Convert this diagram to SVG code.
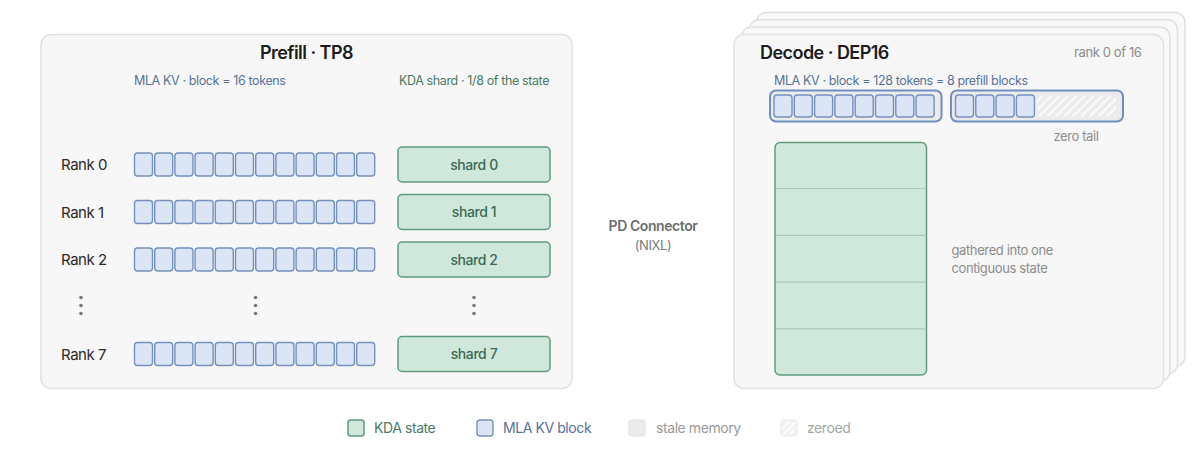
<svg xmlns="http://www.w3.org/2000/svg" xmlns:xlink="http://www.w3.org/1999/xlink" width="1200" height="456" viewBox="0 0 1200 456">
  <style>
    text { font-family: Inter, "Liberation Sans", "DejaVu Sans", sans-serif; letter-spacing: -0.03em; }
    .panel { fill: #f7f7f7; stroke: #e1e1e1; stroke-width: 1.5; }
    .card { fill: #f9f9f9; stroke: #e0e0e0; stroke-width: 1.5; }
    .title { font-size: 18px; font-weight: 600; fill: #1c1c1c; }
    .sub-blue { font-size: 12.5px; fill: #587399; }
    .sub-green { font-size: 12.5px; fill: #4b7a63; }
    .rank { font-size: 15px; fill: #2a2a2a; }
    .kv { fill: #dbe5f6; stroke: #7691bd; stroke-width: 1.4; }
    .kda { fill: #d0e8dc; stroke: #5f9a7b; stroke-width: 1.5; }
    .shard-label { font-size: 14px; font-weight: 500; fill: #3c6a54; text-anchor: middle; }
    .dot { fill: #7a7a7a; }
    .big { fill: #ebebeb; stroke: #6f8fbe; stroke-width: 2; }
    .note { font-size: 13px; fill: #8c8c8c; }
    .legend { font-size: 14px; }
  </style>
  <defs>
    <pattern id="hatch" width="6" height="6" patternUnits="userSpaceOnUse" patternTransform="rotate(45)">
      <rect width="6" height="6" fill="#ececec"/>
      <rect width="2" height="6" fill="#fbfbfb"/>
    </pattern>
    <pattern id="hatch-light" width="5" height="5" patternUnits="userSpaceOnUse" patternTransform="rotate(45)">
      <rect width="5" height="5" fill="#f1f1f1"/>
      <rect width="1.8" height="5" fill="#fdfdfd"/>
    </pattern>
    <!-- twelve 16-token KV blocks, centred vertically on y=0 -->
    <g id="kvrow">
      <rect class="kv" x="134.5" y="-11.5" width="18" height="23" rx="3"/>
      <rect class="kv" x="154.7" y="-11.5" width="18" height="23" rx="3"/>
      <rect class="kv" x="174.9" y="-11.5" width="18" height="23" rx="3"/>
      <rect class="kv" x="195.1" y="-11.5" width="18" height="23" rx="3"/>
      <rect class="kv" x="215.3" y="-11.5" width="18" height="23" rx="3"/>
      <rect class="kv" x="235.5" y="-11.5" width="18" height="23" rx="3"/>
      <rect class="kv" x="255.7" y="-11.5" width="18" height="23" rx="3"/>
      <rect class="kv" x="275.9" y="-11.5" width="18" height="23" rx="3"/>
      <rect class="kv" x="296.1" y="-11.5" width="18" height="23" rx="3"/>
      <rect class="kv" x="316.3" y="-11.5" width="18" height="23" rx="3"/>
      <rect class="kv" x="336.5" y="-11.5" width="18" height="23" rx="3"/>
      <rect class="kv" x="356.7" y="-11.5" width="18" height="23" rx="3"/>
    </g>
    <g id="vdots">
      <circle class="dot" cx="0" cy="-8" r="1.8"/>
      <circle class="dot" cx="0" cy="0" r="1.8"/>
      <circle class="dot" cx="0" cy="8" r="1.8"/>
    </g>
  </defs>

  <rect width="1200" height="456" fill="#ffffff"/>

  <!-- Prefill side -->
  <g id="prefill">
    <rect class="panel" x="41" y="34.5" width="531" height="354" rx="10"/>
    <text class="title" x="306.5" y="59" text-anchor="middle">Prefill · TP8</text>
    <text class="sub-blue" x="134" y="85">MLA KV · block = 16 tokens</text>
    <text class="sub-green" x="474" y="85" text-anchor="middle">KDA shard · 1/8 of the state</text>
  </g>

  <g id="rank0">
    <text class="rank" x="61" y="170">Rank 0</text>
    <use xlink:href="#kvrow" y="164.5"/>
    <rect class="kda" x="398" y="147" width="152" height="35" rx="4"/>
    <text class="shard-label" x="474" y="169.5">shard 0</text>
  </g>
  <g id="rank1">
    <text class="rank" x="61" y="217.5">Rank 1</text>
    <use xlink:href="#kvrow" y="212"/>
    <rect class="kda" x="398" y="194.5" width="152" height="35" rx="4"/>
    <text class="shard-label" x="474" y="217">shard 1</text>
  </g>
  <g id="rank2">
    <text class="rank" x="61" y="265">Rank 2</text>
    <use xlink:href="#kvrow" y="259.5"/>
    <rect class="kda" x="398" y="242" width="152" height="35" rx="4"/>
    <text class="shard-label" x="474" y="264.5">shard 2</text>
  </g>
  <g id="ellipsis">
    <use xlink:href="#vdots" x="81" y="305.5"/>
    <use xlink:href="#vdots" x="255.5" y="305.5"/>
    <use xlink:href="#vdots" x="474" y="305.5"/>
  </g>
  <g id="rank7">
    <text class="rank" x="61" y="359.5">Rank 7</text>
    <use xlink:href="#kvrow" y="354"/>
    <rect class="kda" x="398" y="336.5" width="152" height="35" rx="4"/>
    <text class="shard-label" x="474" y="359">shard 7</text>
  </g>

  <!-- transfer link label -->
  <g id="pd-connector">
    <text x="653" y="231" text-anchor="middle" font-size="14" font-weight="600" fill="#6e6e6e">PD Connector</text>
    <text x="653" y="250" text-anchor="middle" font-size="13" fill="#7a7a7a">(NIXL)</text>
  </g>

  <!-- Decode side: stacked cards for the 16 ranks -->
  <g id="decode">
    <rect class="card" x="756.5" y="12.5" width="428.5" height="354" rx="10"/>
    <rect class="card" x="749" y="19.8" width="428.5" height="354" rx="10"/>
    <rect class="card" x="741.5" y="27.1" width="428.5" height="354" rx="10"/>
    <rect class="panel" x="734" y="34.5" width="429.5" height="354" rx="10"/>
    <text class="title" x="760" y="58.5">Decode · DEP16</text>
    <text class="note" x="1141.5" y="57" text-anchor="end">rank 0 of 16</text>
    <text class="sub-blue" x="774" y="84.5">MLA KV · block = 128 tokens = 8 prefill blocks</text>
  </g>

  <g id="decode-block-full">
    <rect class="big" x="770" y="90.5" width="171.5" height="31" rx="6"/>
    <rect class="kv" x="774" y="95" width="18" height="22" rx="3"/>
    <rect class="kv" x="794.3" y="95" width="18" height="22" rx="3"/>
    <rect class="kv" x="814.6" y="95" width="18" height="22" rx="3"/>
    <rect class="kv" x="834.9" y="95" width="18" height="22" rx="3"/>
    <rect class="kv" x="855.2" y="95" width="18" height="22" rx="3"/>
    <rect class="kv" x="875.5" y="95" width="18" height="22" rx="3"/>
    <rect class="kv" x="895.8" y="95" width="18" height="22" rx="3"/>
    <rect class="kv" x="916.1" y="95" width="18" height="22" rx="3"/>
  </g>

  <g id="decode-block-partial">
    <rect class="big" x="951" y="90.5" width="172" height="31" rx="6"/>
    <rect class="kv" x="955.5" y="95" width="18" height="22" rx="3"/>
    <rect class="kv" x="975.8" y="95" width="18" height="22" rx="3"/>
    <rect class="kv" x="996.1" y="95" width="18" height="22" rx="3"/>
    <rect class="kv" x="1016.4" y="95" width="18" height="22" rx="3"/>
    <rect x="1037" y="95.5" width="79" height="21" rx="2" fill="url(#hatch)"/>
    <text class="note" x="1076" y="140.5" text-anchor="middle">zero tail</text>
  </g>

  <g id="kda-state">
    <rect class="kda" x="775" y="142.5" width="151.5" height="232.5" rx="5" stroke-width="2"/>
    <g stroke="#a9c9ba" stroke-width="1.2">
      <line x1="776" y1="188.5" x2="925.5" y2="188.5"/>
      <line x1="776" y1="235.3" x2="925.5" y2="235.3"/>
      <line x1="776" y1="282.1" x2="925.5" y2="282.1"/>
      <line x1="776" y1="328.9" x2="925.5" y2="328.9"/>
    </g>
    <text class="note" x="951.5" y="255">gathered into one</text>
    <text class="note" x="951.5" y="273">contiguous state</text>
  </g>

  <!-- Legend -->
  <g id="legend">
    <rect class="kda" x="348" y="420" width="16" height="16" rx="3"/>
    <text class="legend" x="374" y="433" fill="#4b7a63">KDA state</text>
    <rect class="kv" x="477" y="420" width="16" height="16" rx="3"/>
    <text class="legend" x="503" y="433" fill="#56709a">MLA KV block</text>
    <rect x="629" y="420" width="16" height="16" rx="3" fill="#ebebeb" stroke="#dfdfdf" stroke-width="1"/>
    <text class="legend" x="656" y="433" fill="#9a9a9a">stale memory</text>
    <rect x="781" y="420" width="16" height="16" rx="3" fill="url(#hatch-light)" stroke="#e6e6e6" stroke-width="1"/>
    <text class="legend" x="807" y="433" fill="#a6a6a6">zeroed</text>
  </g>
</svg>
